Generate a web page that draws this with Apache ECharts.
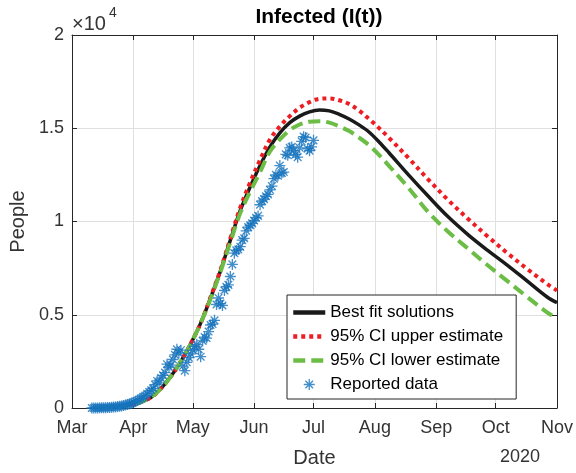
<!DOCTYPE html>
<html>
<head>
<meta charset="utf-8">
<script src="https://cdn.jsdelivr.net/npm/echarts@6/dist/echarts.min.js"></script>
<style>
  html, body { margin: 0; padding: 0; background: #ffffff; }
  #chart { width: 576px; height: 473px; }
</style>
</head>
<body>
<div id="chart"></div>
<script>
const FONT = '"Liberation Sans", Arial, Helvetica, sans-serif';

// Axis ticks
const monthLabels = ['Mar', 'Apr', 'May', 'Jun', 'Jul', 'Aug', 'Sep', 'Oct', 'Nov'];
const yTickValues = [0, 5000, 10000, 15000, 20000];
const yTickLabels = ['0', '0.5', '1', '1.5', '2'];
const xSpanDays = 245;           // Mar 1 -> Nov 1, 2020

// Model curves, sampled as days since Mar 1 2020
const fitDays = [14, 20, 25, 30, 35, 40, 45, 50, 55, 60, 65, 70, 75, 80, 85, 90, 95, 100, 105, 110,
                 115, 120, 125, 130, 135, 140, 145, 150, 155, 160, 170, 180, 190, 200, 210, 220, 230, 240, 245];
const bestFit = [10, 40, 90, 180, 330, 580, 1050, 1700, 2500, 3450, 4550, 5900, 7350, 9000, 10600, 11850, 13000, 14000, 14750, 15300,
                 15650, 15880, 15980, 15930, 15750, 15500, 15180, 14800, 14280, 13700, 12500, 11350, 10250, 9300, 8450, 7650, 6800, 5950, 5650];
const upperCI = [10, 40, 90, 180, 330, 580, 1050, 1700, 2500, 3450, 4550, 5950, 7400, 9100, 10750, 12100, 13300, 14400, 15100, 15650,
                 16100, 16400, 16580, 16600, 16500, 16300, 15950, 15500, 15020, 14500, 13400, 12250, 11150, 10150, 9200, 8300, 7450, 6650, 6300];
const lowerCI = [10, 40, 90, 180, 330, 580, 1050, 1700, 2500, 3450, 4550, 5850, 7300, 8900, 10450, 11600, 12650, 13750, 14400, 14900,
                 15200, 15350, 15380, 15300, 15100, 14850, 14500, 14100, 13580, 13000, 11800, 10500, 9450, 8550, 7650, 6800, 5950, 5130, 4800];

// Daily reported infections, first entry on day 10 (Mar 11)
const reportedStartDay = 10;
const reportedCases = [
  0, 0, 5, 5, 10, 10, 15, 20, 25, 30,
  40, 50, 60, 75, 90, 110, 130, 160, 190, 220,
  260, 300, 350, 400, 460, 520, 600, 660, 760, 860,
  950, 1050, 1250, 1450, 1350, 1600, 1750, 1900, 2350, 2200,
  2300, 2600, 2850, 3150, 2950, 3100, 2250, 2000, 2450, 2700,
  2900, 3100, 3300, 3400, 3150, 2750, 3600, 3800, 3750, 4100,
  4450, 4500, 4700, 5550, 5900, 5600, 5500, 6300, 6500, 6600,
  7050, 7700, 8300, 8450, 8500, 8650, 9000, 9100, 9500, 9700,
  9800, 9900, 10050, 10200, 10300, 10900, 11100, 11200, 11350, 11450,
  11700, 11900, 12300, 12500, 12450, 13000, 12600, 12650, 13600, 13550,
  13950, 14000, 13800, 13600, 13450, 13950, 14300, 14550, 14500, 13900,
  13800, 14000, 14350
];

function dayToTime(d) { return new Date(2020, 2, 1 + d).getTime(); }

const axisColor = '#262626';
const labelColor = '#333333';
const gridColor = '#e0e0e0';

// eight-spoke asterisk marker
const asterisk = 'path://M0 8.8L20 8.8L20 11.2L0 11.2Z M8.8 0L11.2 0L11.2 20L8.8 20Z ' +
  'M2.2 3.9L3.9 2.2L17.8 16.1L16.1 17.8Z M16.1 2.2L17.8 3.9L3.9 17.8L2.2 16.1Z';

const pair = (days, vals) => days.map((d, i) => [dayToTime(d), vals[i]]);
const reported = reportedCases.map((v, i) => [dayToTime(reportedStartDay + i), v]);

const xMin = dayToTime(0), xMax = dayToTime(xSpanDays);
const DAY = 86400000;

const colors = { best: '#1a1a1a', upper: '#ee1d24', lower: '#6cbd45', data: '#1573bd' };

// legend entries for the curves: line sample only, no marker
const lineLegend = name => ({ name, itemStyle: { opacity: 0 }, lineStyle: { width: 4.5 } });

const chart = echarts.init(document.getElementById('chart'), null, { renderer: 'canvas' });
chart.setOption({
  animation: false,
  backgroundColor: '#ffffff',
  textStyle: { fontFamily: FONT },
  title: {
    text: 'Infected (I(t))',
    left: 314, top: 2, textAlign: 'center',
    textStyle: { fontFamily: FONT, fontSize: 21, fontWeight: 'bold', color: '#000000' }
  },
  grid: { left: 72, right: 19, top: 35, bottom: 64, containLabel: false },
  xAxis: [{
    type: 'time', min: xMin, max: xMax, position: 'bottom',
    splitNumber: 8, minInterval: 28 * DAY, maxInterval: 31 * DAY,
    axisLine: { show: true, onZero: false, lineStyle: { color: axisColor, width: 1 } },
    axisTick: { show: true, inside: true, length: 5, lineStyle: { color: axisColor } },
    axisLabel: {
      color: labelColor, fontSize: 18, fontFamily: FONT, margin: 11,
      showMinLabel: true, showMaxLabel: true, hideOverlap: false,
      formatter: v => { const d = new Date(v); return d.getDate() === 1 ? (monthLabels[d.getMonth() - 2] || '') : ''; }
    },
    splitLine: { show: true, lineStyle: { color: gridColor, width: 1 } },
    name: 'Date', nameLocation: 'middle', nameGap: 40,
    nameTextStyle: { fontFamily: FONT, fontSize: 20, color: labelColor }
  }, {
    type: 'time', min: xMin, max: xMax, position: 'top',
    splitNumber: 8, minInterval: 28 * DAY, maxInterval: 31 * DAY,
    axisLine: { show: true, onZero: false, lineStyle: { color: axisColor, width: 1 } },
    axisTick: { show: true, inside: true, length: 5, lineStyle: { color: axisColor } },
    axisLabel: { show: false },
    splitLine: { show: false }
  }],
  yAxis: [{
    type: 'value', min: 0, max: 20000, interval: 5000, position: 'left',
    axisLine: { show: true, onZero: false, lineStyle: { color: axisColor, width: 1 } },
    axisTick: { show: true, inside: true, length: 5, lineStyle: { color: axisColor } },
    axisLabel: {
      color: labelColor, fontSize: 18, fontFamily: FONT, margin: 8,
      formatter: v => { const i = yTickValues.indexOf(v); return i >= 0 ? yTickLabels[i] : ''; }
    },
    splitLine: { show: true, lineStyle: { color: gridColor, width: 1 } },
    name: 'People', nameLocation: 'middle', nameGap: 41,
    nameTextStyle: { fontFamily: FONT, fontSize: 20, color: labelColor }
  }, {
    type: 'value', min: 0, max: 20000, interval: 5000, position: 'right',
    axisLine: { show: true, onZero: false, lineStyle: { color: axisColor, width: 1 } },
    axisTick: { show: true, inside: true, length: 5, lineStyle: { color: axisColor } },
    axisLabel: { show: false },
    splitLine: { show: false }
  }],
  legend: {
    orient: 'vertical', left: 287, top: 295,
    itemWidth: 32, itemHeight: 11, itemGap: 7, itemTextGap: 5,
    padding: [9, 13, 6, 4],
    backgroundColor: '#ffffff', borderColor: axisColor, borderWidth: 1, borderRadius: 0,
    textStyle: { fontFamily: FONT, fontSize: 17, color: '#000000' },
    data: [
      lineLegend('Best fit solutions'),
      lineLegend('95% CI upper estimate'),
      lineLegend('95% CI lower estimate'),
      { name: 'Reported data' }
    ]
  },
  graphic: [
    { type: 'text', left: 72, top: 14, style: { text: '×10', font: '20px ' + FONT, fill: labelColor } },
    { type: 'text', left: 109, top: 6, style: { text: '4', font: '14px ' + FONT, fill: labelColor } },
    { type: 'text', left: 500, top: 448, style: { text: '2020', font: '18px ' + FONT, fill: labelColor } }
  ],
  series: [
    {
      name: 'Best fit solutions', type: 'line', data: pair(fitDays, bestFit),
      symbol: 'none', showSymbol: false, smooth: 0.35, z: 2,
      lineStyle: { color: colors.best, width: 3.5 }, itemStyle: { color: colors.best }
    },
    {
      name: '95% CI upper estimate', type: 'line', data: pair(fitDays, upperCI),
      symbol: 'none', showSymbol: false, smooth: 0.35, z: 3,
      lineStyle: { color: colors.upper, width: 4, type: [4, 4], cap: 'butt' }, itemStyle: { color: colors.upper }
    },
    {
      name: '95% CI lower estimate', type: 'line', data: pair(fitDays, lowerCI),
      symbol: 'none', showSymbol: false, smooth: 0.35, z: 4,
      lineStyle: { color: colors.lower, width: 4, type: [12, 6], cap: 'butt' }, itemStyle: { color: colors.lower }
    },
    {
      name: 'Reported data', type: 'scatter', data: reported,
      symbol: asterisk, symbolSize: 11, z: 5,
      itemStyle: { color: colors.data }
    }
  ]
});
</script>
</body>
</html>
